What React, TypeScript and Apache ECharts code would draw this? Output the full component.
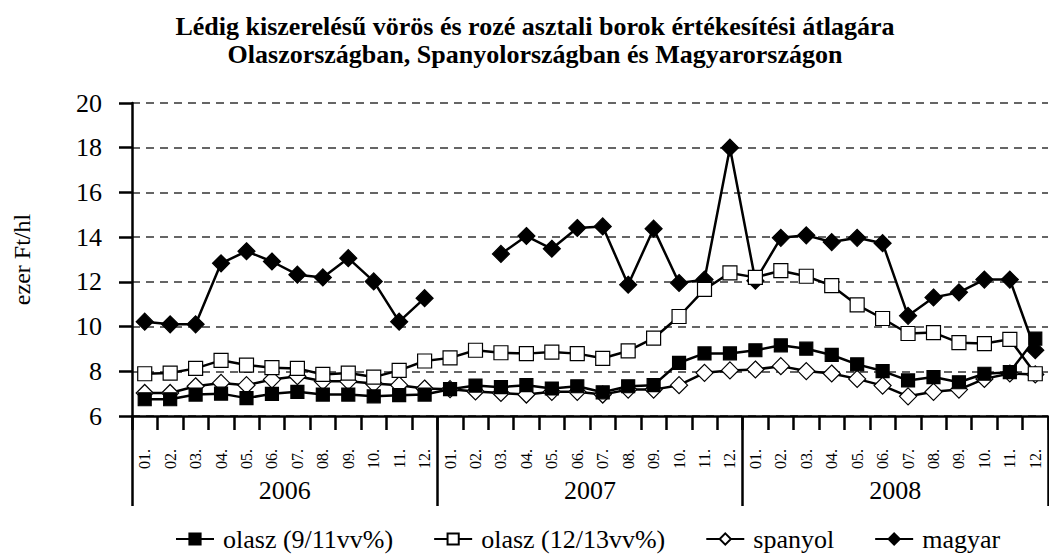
import React, { useEffect, useRef } from "react";
import * as echarts from "echarts";

const months = ["01.", "02.", "03.", "04.", "05.", "06.", "07.", "08.", "09.", "10.", "11.", "12."];
const years = ["2006", "2007", "2008"];
const categories = years.flatMap((y) => months.map((m) => `${y}-${m}`));

const olasz9 = [6.75, 6.75, 6.96, 7.0, 6.8, 6.99, 7.08, 6.96, 6.96, 6.88, 6.93, 6.96,
  7.2, 7.36, 7.29, 7.38, 7.23, 7.33, 7.06, 7.33, 7.38, 8.38, 8.8, 8.8,
  8.94, 9.16, 9.01, 8.73, 8.31, 8.01, 7.59, 7.74, 7.51, 7.89, 7.96, 9.46];
const olasz12 = [7.89, 7.92, 8.13, 8.49, 8.28, 8.16, 8.13, 7.86, 7.92, 7.74, 8.04, 8.46,
  8.6, 8.94, 8.83, 8.79, 8.86, 8.79, 8.58, 8.91, 9.48, 10.45, 11.66, 12.4,
  12.2, 12.5, 12.25, 11.83, 10.97, 10.36, 9.69, 9.73, 9.28, 9.24, 9.43, 7.89];
const spanyol = [7.03, 7.03, 7.33, 7.48, 7.38, 7.63, 7.78, 7.55, 7.55, 7.45, 7.38, 7.23,
  7.2, 7.1, 7.03, 6.96, 7.08, 7.08, 6.96, 7.18, 7.18, 7.38, 7.93, 8.04,
  8.08, 8.23, 8.01, 7.9, 7.66, 7.36, 6.88, 7.08, 7.18, 7.66, 7.9, 7.86];
const magyar = [10.22, 10.1, 10.1, 12.83, 13.37, 12.91, 12.32, 12.2, 13.06, 12.02, 10.22, 11.27,
  null, null, 13.25, 14.05, 13.48, 14.41, 14.48, 11.87, 14.38, 11.95, 12.1, 18.0,
  12.05, 13.97, 14.08, 13.78, 13.97, 13.73, 10.48, 11.3, 11.53, 12.1, 12.1, 8.94];

const seriesNames = ["olasz (9/11vv%)", "olasz (12/13vv%)", "spanyol", "magyar"];
const yTicks = { min: 6, max: 20, interval: 2 };
const titleLines = [
  "Lédig kiszerelésű vörös és rozé asztali borok értékesítési átlagára",
  "Olaszországban, Spanyolországban és Magyarországon",
];

const FONT = "Liberation Serif";

export default function App() {
  const ref = useRef<HTMLDivElement>(null);
  useEffect(() => {
    if (!ref.current) return;
    const chart = echarts.init(ref.current, null, { renderer: "svg" });
    const mk = (name: string, data: (number | null)[], symbol: string, size: number, fill: string, z: number) => ({
      name,
      type: "line",
      data,
      symbol,
      symbolSize: size,
      showSymbol: true,
      connectNulls: false,
      z,
      lineStyle: { color: "#000", width: 2.5 },
      itemStyle: { color: fill, borderColor: "#000", borderWidth: 1.2 },
      emphasis: { disabled: true },
    });
    chart.setOption({
      animation: false,
      backgroundColor: "#fff",
      textStyle: { fontFamily: FONT, color: "#000" },
      title: {
        text: titleLines.join("\n"),
        left: 530,
        top: 7,
        textAlign: "center",
        textStyle: { fontFamily: FONT, fontSize: 26, fontWeight: "bold", color: "#000", lineHeight: 28 },
      },
      legend: {
        data: seriesNames,
        left: 170,
        top: 521,
        itemWidth: 38,
        itemHeight: 14,
        itemGap: 40,
        textStyle: { fontFamily: FONT, fontSize: 26, color: "#000", padding: [0, 0, 0, 4] },
      },
      grid: { left: 132, right: 1, top: 103, bottom: 139, containLabel: false },
      xAxis: [
        {
          type: "category",
          data: categories,
          boundaryGap: true,
          axisLine: { show: true, lineStyle: { color: "#000", width: 2.5 } },
          axisTick: { show: true, interval: 0, length: 14, lineStyle: { color: "#000", width: 2.5 } },
          axisLabel: {
            interval: 0,
            rotate: 90,
            margin: 33,
            fontFamily: FONT,
            fontSize: 16,
            color: "#000",
            formatter: (v: string) => v.split("-")[1],
          },
          splitLine: { show: false },
        },
        {
          type: "category",
          data: years,
          position: "bottom",
          boundaryGap: true,
          axisLine: { show: false },
          axisTick: { show: true, interval: 0, length: 90, lineStyle: { color: "#000", width: 2.5 } },
          axisLabel: { interval: 0, margin: 61, fontFamily: FONT, fontSize: 26, color: "#000" },
          splitLine: { show: false },
        },
      ],
      yAxis: {
        type: "value",
        min: yTicks.min,
        max: yTicks.max,
        interval: yTicks.interval,
        name: "ezer Ft/hl",
        nameLocation: "middle",
        nameGap: 98,
        nameMoveOverlap: false,
        nameTextStyle: { fontFamily: FONT, fontSize: 24, color: "#000" },
        axisLine: { show: true, lineStyle: { color: "#000", width: 2.5 } },
        axisTick: { show: true, length: 13, lineStyle: { color: "#000", width: 2.5 } },
        axisLabel: { margin: 30, fontFamily: FONT, fontSize: 26, color: "#000" },
        splitLine: { show: true, lineStyle: { color: "#333", width: 1.5, type: [8, 6] } },
      },
      series: [
        mk(seriesNames[0], olasz9, "rect", 13, "#000", 5),
        mk(seriesNames[1], olasz12, "rect", 14, "#fff", 4),
        mk(seriesNames[2], spanyol, "diamond", 17, "#fff", 3),
        mk(seriesNames[3], magyar, "diamond", 17, "#000", 2),
      ],
    });
    return () => chart.dispose();
  }, []);
  return (
    <div
      ref={ref}
      style={{ position: "fixed", left: 0, top: 0, width: 1049, height: 555, background: "#fff" }}
    />
  );
}
